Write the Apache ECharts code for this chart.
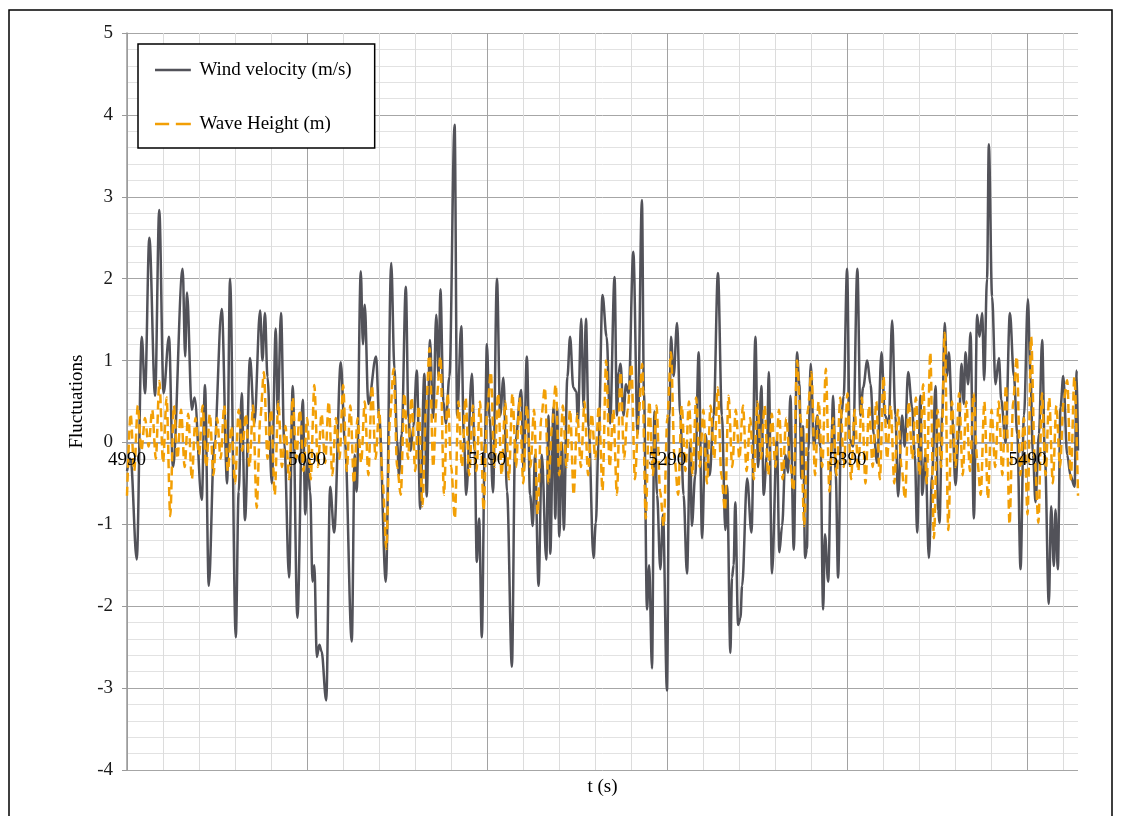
<!DOCTYPE html>
<html>
<head>
<meta charset="utf-8">
<title>Wind velocity and wave height fluctuations</title>
<script src="https://cdn.jsdelivr.net/npm/echarts@6.0.0/dist/echarts.min.js"></script>
<style>
  html, body { margin: 0; padding: 0; background: #fff; }
  #chart { width: 1121px; height: 816px; }
</style>
</head>
<body>
<div id="chart"></div>
<script>
// tick labels on the time axis and the 20 s grid steps
const timeLabels = [4990, 5090, 5190, 5290, 5390, 5490];
const gridTimes = [4990, 5010, 5030, 5050, 5070, 5090, 5110, 5130, 5150, 5170, 5190, 5210, 5230, 5250,
    5270, 5290, 5310, 5330, 5350, 5370, 5390, 5410, 5430, 5450, 5470, 5490, 5510];
const tMin = 4990, tMax = 5518;
const yMin = -4, yMax = 5;

// wind velocity fluctuation [t (s), m/s]
const windPoints = [
    [4990, -0.35], [4992, -0.2], [4995.4, -1.43], [4998.2, 1.29], [5000, 0.6], [5002.4, 2.5], [5005.6, 0.57],
    [5007.9, 2.84], [5010.3, 0.6], [5013.3, 1.29], [5015.5, -0.3], [5020.9, 2.12], [5022.3, 1.05], [5023.3, 1.83],
    [5026, 0.4], [5027.5, 0.55], [5031.5, -0.7], [5033.3, 0.7], [5035.4, -1.75], [5038.5, 0.0], [5042.6, 1.63],
    [5045.6, -0.5], [5047.2, 2.0], [5050.4, -2.38], [5052, -0.6], [5053.7, 0.6], [5055.5, -0.95], [5058.3, 1.03],
    [5060.7, 0.23], [5063.9, 1.61], [5065.2, 1.0], [5066.6, 1.58], [5068, 0.8], [5070.4, -0.5], [5072.6, 1.39],
    [5073.7, 0.35], [5075.5, 1.58], [5077.3, 0.0], [5080, -1.65], [5082, 0.69], [5084.6, -2.14], [5087.6, 0.52],
    [5089, -0.88], [5090.3, -0.2], [5091.7, -0.6], [5093, -1.7], [5094, -1.5], [5095.4, -2.62], [5096.8, -2.47],
    [5098, -2.55], [5100.6, -3.15], [5102.8, -0.54], [5105, -1.1], [5108.7, 0.98], [5111, 0.0], [5114.8, -2.43],
    [5116.4, -0.15], [5117.5, -0.6], [5119.8, 2.09], [5121, 1.2], [5122, 1.68], [5124, 0.47], [5128.3, 1.05],
    [5130, 0.3], [5133.7, -1.7], [5136.7, 2.19], [5138.5, 0.9], [5140, 0.0], [5141, -0.4], [5142.5, 0.1],
    [5144.8, 1.9], [5146.3, 0.3], [5147.5, -0.1], [5149, 0.2], [5150.9, 0.88], [5152.8, -0.81], [5155.1, 0.84],
    [5156.4, -0.66], [5158.2, 1.25], [5160, 0.3], [5161.7, 1.56], [5163, 0.8], [5164, 1.87], [5165.7, 0.5],
    [5167, 0.23], [5169, 0.8], [5171.9, 3.88], [5173.3, 0.33], [5175.6, 1.42], [5177, 0.1], [5178.3, -0.64],
    [5181.5, 0.84], [5183, -0.1], [5184.2, -1.46], [5185.5, -0.93], [5187, -2.38], [5188.7, 0.0], [5189.8, 1.2],
    [5191.3, 0.3], [5193.2, -0.61], [5195.4, 2.0], [5197.2, 0.33], [5199, 0.79], [5201, -0.6], [5203.7, -2.74],
    [5205.5, 0.0], [5208.9, 0.64], [5210.2, -0.35], [5212, 1.05], [5213.8, -0.64], [5215.3, -1.02], [5216.5, -0.15],
    [5218.5, -1.75], [5220.3, -0.15], [5222.8, -1.43], [5224, 0.33], [5225, -1.36], [5226.8, 0.43], [5227.8, -0.93],
    [5228.8, 0.43], [5230, -1.15], [5231.5, 0.0], [5232.5, -1.07], [5234.5, 0.8], [5236, 1.29], [5237.8, 0.67],
    [5239.5, 0.62], [5240.3, 0.23], [5242.2, 1.51], [5243.5, 0.43], [5244.8, 1.51], [5246.3, 0.19], [5249, -1.41],
    [5250.3, -0.98], [5251.8, 0.0], [5254, 1.8], [5256.3, 1.29], [5258.2, 0.23], [5260.7, 2.02], [5262, 0.33],
    [5263, 0.86], [5264, 0.96], [5265.7, 0.33], [5267, 0.71], [5268.5, 0.6], [5271.1, 2.33], [5273.5, 0.1],
    [5275.9, 2.96], [5277, 0.62], [5278.7, -2.04], [5279.9, -1.5], [5281.5, -2.76], [5282.8, 0.38], [5284.3, -0.64],
    [5286.1, -1.55], [5287.6, -0.88], [5289.8, -3.03], [5291.2, 0.33], [5292, 1.29], [5293.5, 0.81], [5295.4, 1.46],
    [5297.2, 0.33], [5299, -0.64], [5300.9, -1.6], [5302.7, 0.0], [5303.6, -1.02], [5305.5, -0.4], [5307.4, 1.1],
    [5309.3, -1.17], [5311.1, 0.1], [5313.5, -0.4], [5315.7, 0.33], [5318.1, 2.07], [5320.3, 0.33], [5322.2, -1.07],
    [5323.2, -0.53], [5325, -2.57], [5325.9, -1.65], [5326.8, -1.5], [5327.7, -0.73], [5329.3, -2.23], [5330.6, -2.14],
    [5331.5, -1.75], [5334.3, -0.44], [5336.7, -1.1], [5338.9, 1.29], [5340.4, -0.3], [5342.2, 0.69], [5343.5, -0.64],
    [5345.3, -0.15], [5346.3, 0.86], [5348.1, -1.6], [5350.8, 0.04], [5352.2, -1.34], [5353.7, -1.02], [5355.6, -0.15],
    [5357, -0.37], [5358.3, 0.57], [5360.2, -1.31], [5362, 1.1], [5363.3, 0.71], [5364.4, -0.44], [5365.3, 0.2],
    [5366.5, -1.41], [5367.5, -1.3], [5368.3, -0.1], [5369.6, 0.96], [5371.4, -0.05], [5373.3, 0.33], [5375, -0.05],
    [5376.5, -2.04], [5377.5, -1.12], [5379.3, -1.7], [5381, -0.15], [5382, 0.57], [5383.5, -0.4], [5384.8, -1.65],
    [5386.6, 0.33], [5387.9, 0.57], [5389.8, 2.12], [5391.3, 0.04], [5393.1, -0.05], [5395.5, 2.12], [5397.2, 0.33],
    [5398.7, 0.67], [5401, 1.0], [5402.8, 0.71], [5404.6, 0.1], [5406.5, -0.25], [5408.9, 1.1], [5410.8, 0.33],
    [5412.9, 0.23], [5414.8, 1.49], [5416.6, 0.33], [5418.1, -0.66], [5420.3, 0.33], [5421.8, -0.05], [5423.7, 0.86],
    [5425.9, 0.43], [5427.4, -0.15], [5428.7, -1.1], [5430.5, 0.57], [5431.5, -0.64], [5433.3, -0.15], [5435.2, -1.41],
    [5437, -0.4], [5438.9, 0.69], [5440.4, -0.83], [5441.1, -0.98], [5442.6, 0.33], [5444, 1.46], [5445.3, 0.81],
    [5446.3, 1.1], [5448.1, 0.33], [5450, -0.52], [5451.8, 0.1], [5453.3, 0.96], [5454.6, 0.47], [5455.5, 1.1],
    [5457, 0.71], [5458.3, 1.34], [5460.2, -0.93], [5462, 1.56], [5463.3, 1.29], [5464.8, 1.58], [5465.9, 0.76],
    [5467.5, 2.0], [5468.5, 3.64], [5470.3, 1.78], [5472.2, 0.71], [5474.1, 1.03], [5475.4, 0.52], [5477.8, 0.0],
    [5480.2, 1.58], [5482.4, 0.81], [5484.3, 0.1], [5486.1, -1.55], [5488, 0.33], [5490.2, 1.75], [5491.6, 0.81],
    [5493, -0.15], [5494.4, -0.73], [5496.3, 0.1], [5498.1, 1.25], [5499.6, -0.15], [5501.8, -1.97], [5503.1, -0.78],
    [5504.6, -1.51], [5505.5, -0.82], [5506.8, -1.55], [5508.3, 0.43], [5509.8, 0.81], [5512, -0.15], [5513.8, -0.4],
    [5516.1, -0.54], [5517.3, 0.88], [5518, -0.1]
];

// wave height fluctuation (m), one reading every 2 s from 4990 s
const waveStart = 4990;
const waveStep = 2;
const waveValues = [
    -0.65, 0.35, -0.35, 0.45, -0.1, 0.3, -0.05, 0.4, -0.2, 0.75,     // 4990
    -0.25, 0.55, -0.9, 0.45, -0.2, 0.4, -0.3, 0.35, -0.45, 0.3,      // 5010
    -0.15, 0.45, -0.3, 0.35, -0.4, 0.3, -0.2, 0.45, -0.35, 0.2,      // 5030
    -0.5, 0.4, -0.1, 0.35, -0.3, 0.45, -0.8, 0.3, 0.86, -0.2,        // 5050
    0.4, -0.64, 0.5, -0.3, 0.2, -0.45, 0.55, -0.2, 0.4, -0.35,       // 5070
    0.3, -0.45, 0.7, -0.3, 0.35, -0.25, 0.5, -0.4, 0.3, -0.2,        // 5090
    0.7, -0.35, 0.45, -0.5, 0.3, -0.25, 0.5, -0.4, 0.7, -0.2,        // 5110
    0.4, -0.5, -1.3, 0.3, 0.9, -0.3, -0.64, 0.6, -0.2, 0.55,         // 5130
    -0.35, 0.45, -0.78, 0.4, 1.15, -0.3, 0.55, 1.05, -0.64, 0.6,     // 5150
    -0.3, -0.93, 0.5, -0.3, 0.55, -0.4, 0.45, -0.35, 0.5, -0.83,     // 5170
    0.4, 0.86, -0.3, 0.6, -0.4, 0.5, -0.45, 0.6, -0.3, 0.55,         // 5190
    -0.5, 0.45, -0.3, 0.4, -0.88, 0.3, 0.67, -0.5, 0.2, 0.71,        // 5210
    -0.4, 0.45, -0.3, 0.4, -0.64, 0.35, -0.3, 0.5, -0.4, 0.35,       // 5230
    -0.2, 0.45, -0.59, 1.0, -0.3, 0.4, -0.64, 0.86, -0.2, 0.4,       // 5250
    0.96, -0.45, 0.3, 0.96, -0.93, 0.5, -0.4, 0.45, -0.6, -1.02,     // 5270
    0.3, 1.1, -0.2, -0.64, 0.45, -0.35, 0.5, -0.4, 0.55, -0.3,       // 5290
    0.4, -0.5, 0.45, -0.2, 0.67, -0.4, -0.83, 0.57, -0.3, 0.4,       // 5310
    -0.2, 0.45, -0.35, 0.3, -0.45, 0.5, -0.2, 0.45, -0.4, 0.35,      // 5330
    -0.3, 0.4, -0.45, 0.3, -0.2, -0.59, 1.0, 0.3, -1.02, 0.4,        // 5350
    0.86, -0.4, 0.5, -0.3, 0.9, -0.6, 0.3, -0.4, 0.55, -0.3,         // 5370
    0.6, -0.45, 0.4, -0.35, 0.55, -0.5, 0.45, -0.3, 0.5, -0.45,      // 5390
    0.81, -0.2, 0.45, -0.5, 0.4, -0.3, -0.69, 0.5, -0.2, 0.55,       // 5410
    -0.4, 0.71, -0.5, 1.1, -1.17, 0.4, -0.3, 1.34, -1.07, 0.5,       // 5430
    -0.3, 0.6, -0.4, 0.5, -0.35, 0.6, -0.2, -0.64, 0.5, -0.69,       // 5450
    0.4, -0.3, 0.5, -0.4, 0.7, -1.0, 0.5, 1.05, -0.4, 0.3,           // 5470
    -0.88, 1.29, -0.2, -0.98, 0.6, -0.4, 0.55, -0.5, 0.45, -0.3,     // 5490
    0.5, 0.76, -0.45, 0.8, -0.65                                     // 5510
];

const wavePoints = waveValues.map((v, i) => [waveStart + i * waveStep, v]);

const serif = 'Liberation Serif';
const W = 1121, H = 816;
const plot = { left: 127, right: 43, top: 33, bottom: 46 };
// second grid ends on the zero line so the time labels sit just under it
const plotH = H - plot.top - plot.bottom;
const zeroFromBottom = H - (plot.top + plotH * yMax / (yMax - yMin));

const chart = echarts.init(document.getElementById('chart'));

const option = {
    animation: false,
    backgroundColor: '#fff',
    textStyle: { fontFamily: serif },
    graphic: [{
        type: 'rect',
        silent: true,
        shape: { x: 9, y: 10, width: 1103, height: 830 },
        style: { fill: null, stroke: '#000', lineWidth: 1.5 }
    }, {
        type: 'text',
        silent: true,
        x: plot.left + (W - plot.left - plot.right) / 2,
        y: 787,
        style: {
            text: 't (s)',
            font: '19px "Liberation Serif"',
            fill: '#000',
            align: 'center',
            verticalAlign: 'middle'
        }
    }],
    grid: [
        plot,
        { left: plot.left, right: plot.right, top: plot.top, bottom: zeroFromBottom }
    ],
    legend: {
        orient: 'vertical',
        left: 138,
        top: 44,
        padding: [16, 23, 14, 17],
        itemGap: 34,
        itemWidth: 43,
        itemHeight: 2.5,
        backgroundColor: '#fff',
        borderColor: '#000',
        borderWidth: 1.5,
        textStyle: { fontFamily: serif, fontSize: 19, color: '#000', lineHeight: 20 },
        data: [
            { name: 'Wind velocity (m/s)', icon: 'path://M0,0h43v3h-43z' },
            { name: 'Wave Height (m)', icon: 'path://M0,0h17v3h-17z M25,0h18v3h-18z' }
        ]
    },
    xAxis: [{
        type: 'value',
        gridIndex: 0,
        min: tMin,
        max: tMax,
        axisLine: { onZero: true, lineStyle: { color: '#8c96ac', width: 1.5 } },
        axisTick: { show: false, customValues: gridTimes },
        axisLabel: { show: false },
        splitLine: {
            show: true,
            lineStyle: { color: ['#a2a2a2', '#dcdcdc', '#dcdcdc', '#dcdcdc', '#dcdcdc'], width: 1 }
        }
    }, {
        type: 'value',
        gridIndex: 1,
        min: tMin,
        max: tMax,
        z: 10,
        axisLine: { show: false, onZero: false },
        axisTick: { show: false },
        splitLine: { show: false },
        axisLabel: {
            customValues: timeLabels,
            formatter: v => String(v),
            color: '#000',
            fontFamily: serif,
            fontSize: 19,
            margin: 8
        }
    }],
    yAxis: [{
        type: 'value',
        gridIndex: 0,
        min: yMin,
        max: yMax,
        interval: 1,
        name: 'Fluctuations',
        nameLocation: 'middle',
        nameGap: 31,
        nameRotate: 90,
        nameTextStyle: { fontFamily: serif, fontSize: 19, color: '#000' },
        axisLine: { show: true, onZero: false, lineStyle: { color: '#9a9a9a', width: 1.5 } },
        axisTick: { show: true, length: 5, lineStyle: { color: '#9a9a9a' } },
        axisLabel: { color: '#1a1a1a', fontFamily: serif, fontSize: 19, margin: 14 },
        splitLine: { lineStyle: { color: '#a6a6a6', width: 1 } },
        minorTick: { show: false, splitNumber: 5 },
        minorSplitLine: { show: true, lineStyle: { color: '#e2e2e2', width: 1 } }
    }, {
        type: 'value',
        gridIndex: 1,
        show: false
    }],
    series: [{
        name: 'Wind velocity (m/s)',
        type: 'line',
        xAxisIndex: 0,
        yAxisIndex: 0,
        data: windPoints,
        symbol: 'none',
        smooth: 0.35,
        smoothMonotone: 'x',
        itemStyle: { color: '#525259' },
        lineStyle: { color: '#525259', width: 2.5 }
    }, {
        name: 'Wave Height (m)',
        type: 'line',
        xAxisIndex: 0,
        yAxisIndex: 0,
        data: wavePoints,
        symbol: 'none',
        smooth: 0.3,
        smoothMonotone: 'x',
        itemStyle: { color: '#f29f05' },
        lineStyle: { color: '#f29f05', width: 2.5, type: [9, 5] }
    }]
};

chart.setOption(option);
window.addEventListener('resize', () => chart.resize());
</script>
</body>
</html>
